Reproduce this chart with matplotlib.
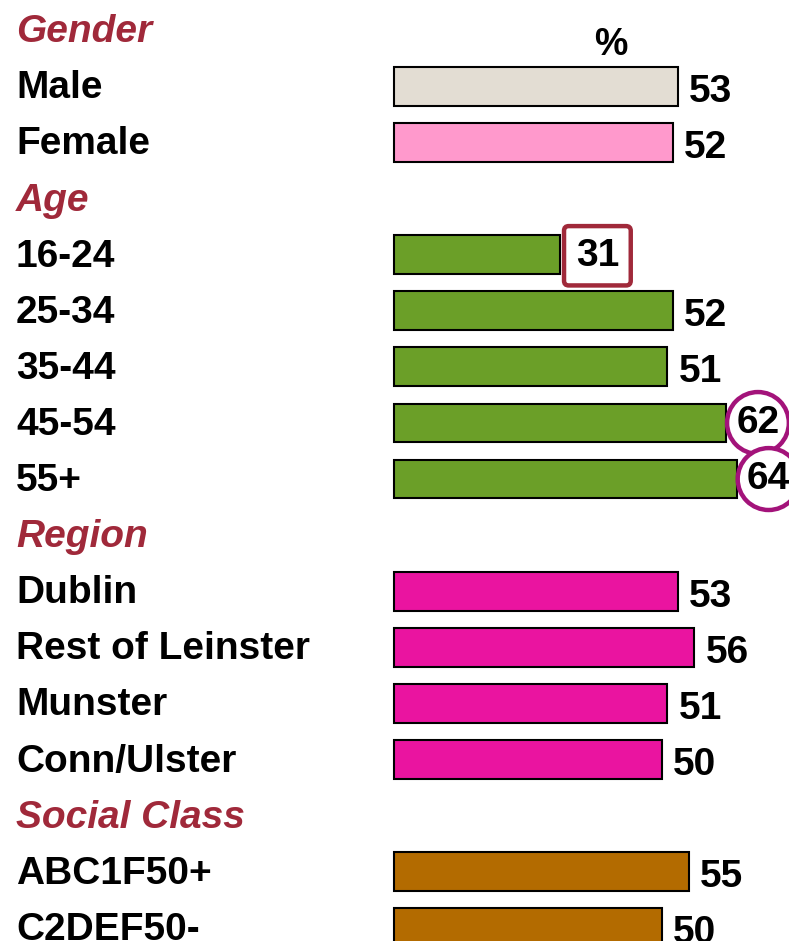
import matplotlib
matplotlib.use("Agg")
import matplotlib.pyplot as plt

plt.rcParams['font.family'] = ['Liberation Sans', 'DejaVu Sans']

# ---- data ----
section_titles = ["Gender", "Age", "Region", "Social Class"]
gender_labels = ["Male", "Female"]
gender_values = [53, 52]
age_labels = ["16-24", "25-34", "35-44", "45-54", "55+"]
age_values = [31, 52, 51, 62, 64]
region_labels = ["Dublin", "Rest of Leinster", "Munster", "Conn/Ulster"]
region_values = [53, 56, 51, 50]
class_labels = ["ABC1F50+", "C2DEF50-"]
class_values = [55, 50]

gender_colors = ["#E3DDD3", "#FF99CC"]
age_color = "#6B9F28"
region_color = "#EA14A0"
class_color = "#B36B00"
header_color = "#A0293A"
circle_color = "#A3137A"

boxed_labels = ["16-24"]
circled_labels = ["45-54", "55+"]

W, H = 789, 941
fig = plt.figure(figsize=(W / 100, H / 100), dpi=100)
ax = fig.add_axes([0, 0, 1, 1])

px_per_unit = 5.36
x0_px = 394
ax.set_xlim(-x0_px / px_per_unit, (W - x0_px) / px_per_unit)
row_px = 56.1
top_px = 28
ax.set_ylim((H - top_px) / row_px, -top_px / row_px)
ax.axis("off")

groups = [
    (section_titles[0], gender_labels, gender_values, gender_colors),
    (section_titles[1], age_labels, age_values, [age_color] * len(age_values)),
    (section_titles[2], region_labels, region_values, [region_color] * len(region_values)),
    (section_titles[3], class_labels, class_values, [class_color] * len(class_values)),
]

fs = 28
label_x = 16 / W
dy_text = 0.075
row = 0
for title, labels, values, colors in groups:
    ax.text(label_x, row + dy_text, title, transform=ax.get_yaxis_transform(),
            fontsize=fs, fontweight="bold", fontstyle="italic",
            color=header_color, va="center", ha="left")
    row += 1
    for lab, val, col in zip(labels, values, colors):
        ax.text(label_x, row + dy_text, lab, transform=ax.get_yaxis_transform(),
                fontsize=fs, fontweight="bold", color="black",
                va="center", ha="left")
        yb = row + 0.04
        ax.barh(yb, val, height=0.69, left=0, color=col,
                edgecolor="black", linewidth=1.5)
        if lab in boxed_labels:
            ax.text(val + 2.9, yb + 0.02, str(val), fontsize=fs, fontweight="bold",
                    va="center", ha="left", color="black",
                    bbox=dict(boxstyle="round,pad=0.3,rounding_size=0.12",
                              fc="white", ec=header_color, lw=3.2))
        elif lab in circled_labels:
            ax.text(val + 5.9, yb, str(val), fontsize=fs, fontweight="bold",
                    va="center", ha="center", color="black",
                    bbox=dict(boxstyle="circle,pad=0.24",
                              fc="white", ec=circle_color, lw=3.2))
        else:
            ax.text(val + 2.1, yb + 0.1, str(val), fontsize=fs,
                    fontweight="bold", va="center", ha="left", color="black")
        row += 1

ax.text(40.5, 0.3, "%", fontsize=fs - 1, fontweight="bold",
        va="center", ha="center", color="black")

fig.savefig("out.png", dpi=100)
